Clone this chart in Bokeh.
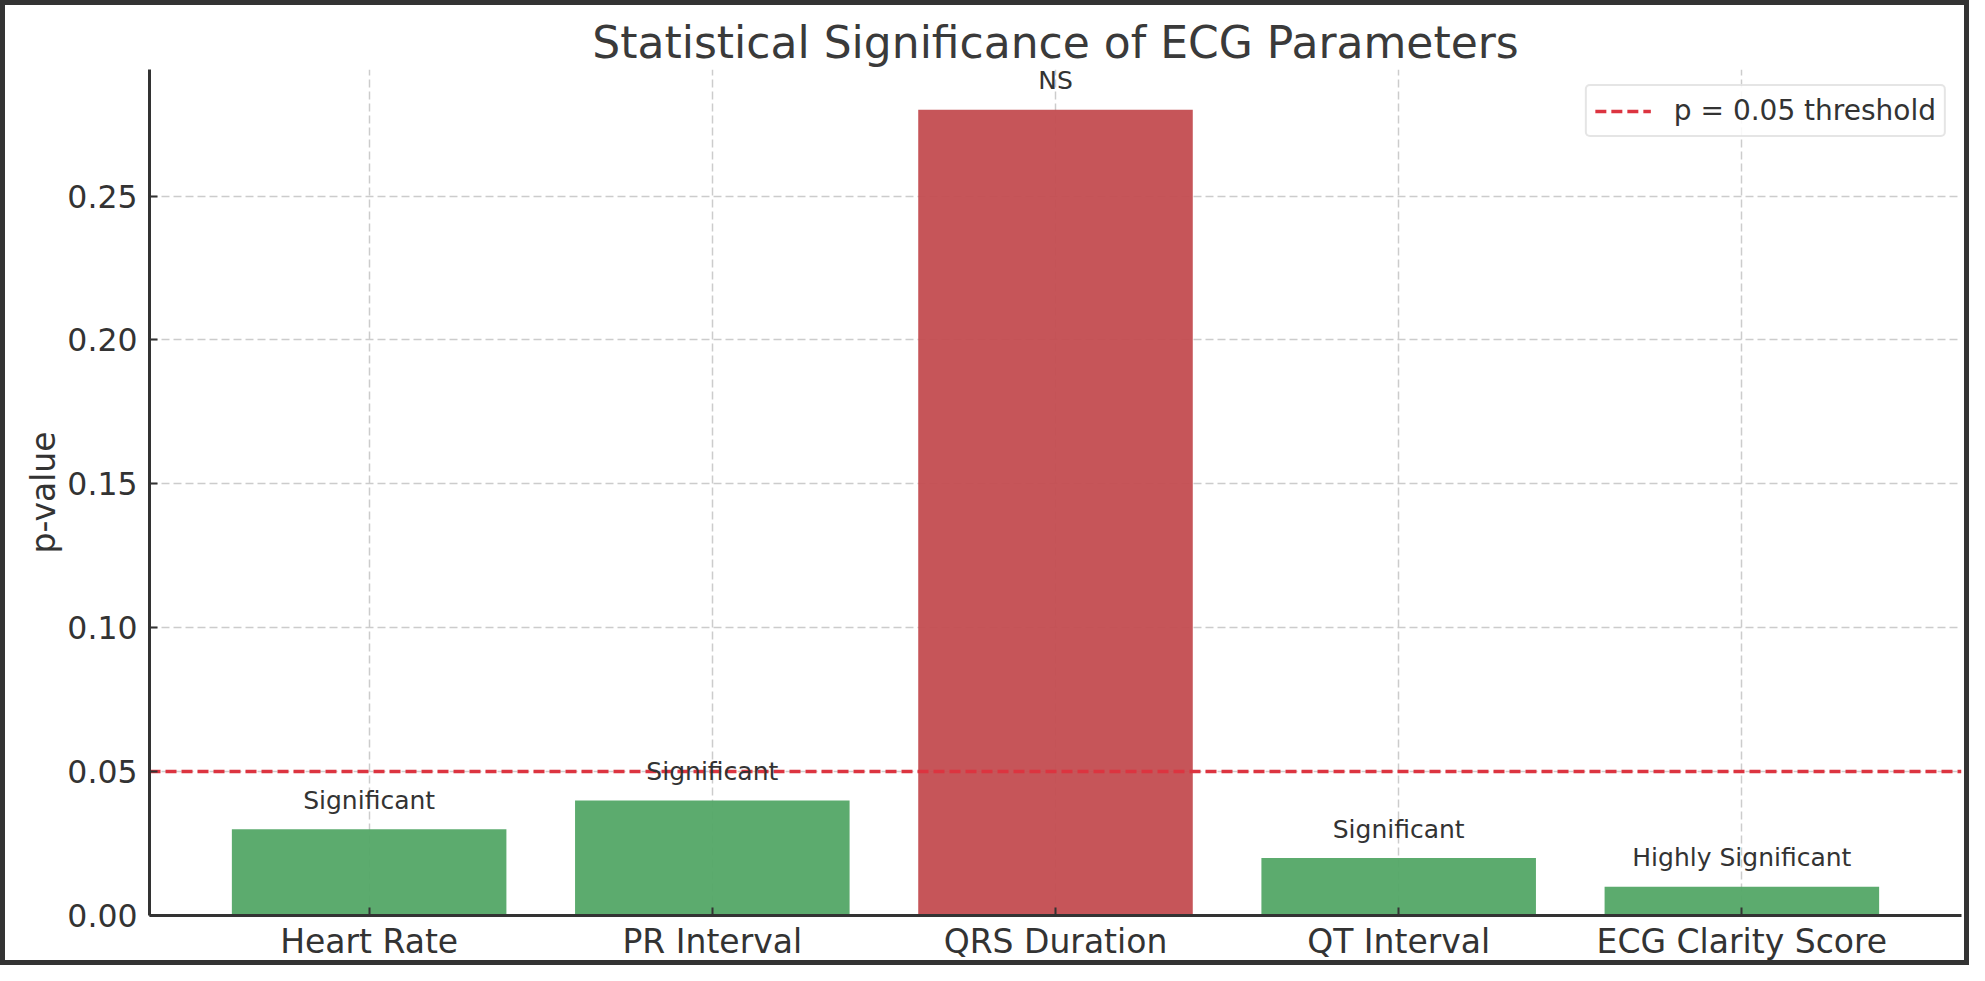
from bokeh.plotting import figure
from bokeh.models import Range1d, FixedTicker, Legend, LegendItem, ColumnDataSource
from bokeh.core.properties import value
from bokeh.embed import file_html
from bokeh.resources import INLINE

# ---- data ----
categories = ["Heart Rate", "PR Interval", "QRS Duration", "QT Interval", "ECG Clarity Score"]
p_values = [0.03, 0.04, 0.28, 0.02, 0.01]
sig_labels = ["Significant", "Significant", "NS", "Significant", "Highly Significant"]
threshold = 0.05
y_ticks = [0.00, 0.05, 0.10, 0.15, 0.20, 0.25]

FONT = "DejaVu Sans"
TXT = "#333333"
GREEN = "#55A868"
RED = "#C44E52"
THR = "#dc3440"

idx = list(range(len(categories)))
colors = [GREEN if pv < threshold else RED for pv in p_values]
label_y = [pv + 0.005 for pv in p_values]

src = ColumnDataSource(dict(x=idx, top=p_values, color=colors, lab=sig_labels, ly=label_y))

n = len(categories)
x_pad = 0.4 + 0.05 * (n - 1 + 0.8)
x_range = Range1d(-x_pad, n - 1 + x_pad)
p = figure(width=1969, height=965, output_backend="svg", toolbar_location=None,
           x_range=x_range, y_range=Range1d(0, max(p_values) * 1.05),
           title="Statistical Significance of ECG Parameters",
           min_border_left=144, min_border_right=13, min_border_top=64, min_border_bottom=55)

p.styles = {"border": "5px solid #333333", "box-sizing": "border-box"}
p.background_fill_color = "white"
p.border_fill_color = "white"
p.outline_line_color = None

p.title.text_font = FONT
p.title.text_font_size = "44px"
p.title.text_font_style = "normal"
p.title.text_color = "#3a3a3a"
p.title.align = "center"
p.title.standoff = 4

p.vbar(x="x", top="top", width=0.8, bottom=0, source=src, fill_color="color",
       line_color=None, fill_alpha=0.96)

thr_r = p.line(x=[x_range.start, x_range.end], y=[threshold, threshold],
               line_color=THR, line_dash="11 5", line_width=3.5)

txt = p.text(x="x", y="ly", text="lab", source=src, text_align="center",
             text_baseline="bottom", text_font=value(FONT), text_font_size="25px",
             text_color=TXT)
txt.level = "overlay"

legend = Legend(items=[LegendItem(label="p = 0.05 threshold", renderers=[thr_r])],
                location="top_right", margin=15, padding=8, spacing=0,
                glyph_width=56, glyph_height=24, label_standoff=23,
                label_text_font=FONT, label_text_font_size="28px", label_text_color=TXT,
                border_line_color="#cccccc", border_line_width=2, border_radius=5,
                background_fill_color="white", background_fill_alpha=0.85)
p.add_layout(legend)

# axes
p.xaxis.ticker = FixedTicker(ticks=idx)
p.xaxis.major_label_overrides = {i: c for i, c in zip(idx, categories)}
p.yaxis.ticker = FixedTicker(ticks=y_ticks)
p.yaxis.major_label_overrides = {t: f"{t:.2f}" for t in y_ticks}
p.yaxis.axis_label = "p-value"

for ax in (p.xaxis, p.yaxis):
    ax.axis_line_color = TXT
    ax.axis_line_width = 3
    ax.major_tick_in = 8
    ax.major_tick_out = 0
    ax.major_tick_line_color = TXT
    ax.major_tick_line_width = 2
    ax.minor_tick_line_color = None
    ax.major_label_text_font = FONT
    ax.major_label_text_font_size = "33px"
    ax.major_label_text_color = TXT
    ax.axis_label_text_font = FONT
    ax.axis_label_text_font_size = "33px"
    ax.axis_label_text_font_style = "normal"
    ax.axis_label_text_color = TXT

p.yaxis.major_label_text_font_size = "31.5px"
p.xaxis.major_label_standoff = 6
p.yaxis.major_label_standoff = 12
p.yaxis.axis_label_standoff = 1

for g in (p.xgrid, p.ygrid):
    g.grid_line_color = "#cccccc"
    g.grid_line_dash = "8 4"
    g.grid_line_width = 1.5

open("out.html", "w").write(file_html(p, INLINE))
